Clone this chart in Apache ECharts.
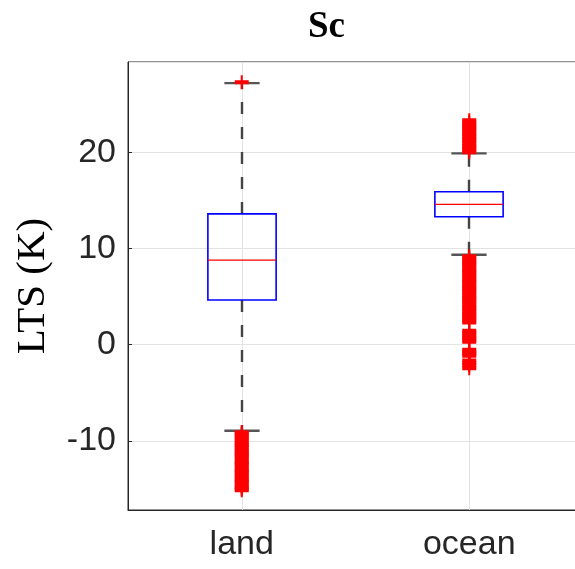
<!DOCTYPE html>
<html>
<head>
<meta charset="utf-8">
<script src="https://cdn.jsdelivr.net/npm/echarts@6/dist/echarts.min.js"></script>
<style>
  html, body { margin: 0; padding: 0; background: #fff; }
  #chart-view { width: 575px; height: 569px; }
</style>
</head>
<body>
<div id="chart-view"></div>
<script>
  // categories and box statistics
  const categories = ['land', 'ocean']
  const whiskerLow = [-8.96, 9.35]
  const q1 = [4.65, 13.3]
  const median = [8.8, 14.6]
  const q3 = [13.6, 15.9]
  const whiskerHigh = [27.2, 19.9]

  // outliers, drawn as '+'
  const landOutliers = [27.3,
    -9.1, -9.3, -9.55, -9.8, -10.05, -10.3, -10.5, -10.75, -11.0, -11.25, -11.45,
    -11.7, -11.95, -12.2, -12.4, -12.65, -12.9, -13.15, -13.35, -13.6, -13.85,
    -14.1, -14.3, -14.55, -14.8, -15.0, -15.15]
  const oceanOutliers = [20.0, 20.25, 20.5, 20.7, 20.95, 21.2, 21.45, 21.65, 21.9,
    22.15, 22.4, 22.6, 22.85, 23.1, 23.35,
    9.2, 8.95, 8.7, 8.5, 8.25, 8.0, 7.75, 7.55, 7.3, 7.05, 6.8, 6.6, 6.35, 6.1,
    5.85, 5.65, 5.4, 5.15, 4.9, 4.7, 4.45, 4.2, 3.95, 3.75, 3.5, 3.25, 3.0, 2.8,
    2.55, 2.3, 1.45, 1.2, 0.95, 0.75, 0.5, 0.3, -0.53, -0.75, -0.95, -1.16,
    -1.65, -1.9, -2.15, -2.45]

  const yTicks = [-10, 0, 10, 20]

  const boxData = categories.map((c, i) => [i, whiskerLow[i], q1[i], median[i], q3[i], whiskerHigh[i]])
  const outlierData = landOutliers.map(v => [0, v]).concat(oceanOutliers.map(v => [1, v]))

  const axisColor = '#262626'
  const gridColor = '#e3e3e3'

  let chart = echarts.init(document.getElementById('chart-view'))

  function renderBox(params, api) {
    let x = api.value(0)
    let band = api.size([1, 0])[0]
    let boxW = band * 0.3
    let capW = band * 0.155
    let pLow = api.coord([x, api.value(1)])
    let pQ1 = api.coord([x, api.value(2)])
    let pMed = api.coord([x, api.value(3)])
    let pQ3 = api.coord([x, api.value(4)])
    let pHigh = api.coord([x, api.value(5)])
    let cx = Math.round(pMed[0])
    let dash = { stroke: '#444', lineWidth: 2.4, lineDash: [12, 13] }
    let cap = { stroke: '#555', lineWidth: 2.4 }
    return {
      type: 'group',
      children: [
        { type: 'line', shape: { x1: cx, y1: pQ3[1], x2: cx, y2: pHigh[1] }, style: dash },
        { type: 'line', shape: { x1: cx, y1: pQ1[1], x2: cx, y2: pLow[1] }, style: dash },
        { type: 'line', shape: { x1: cx - capW / 2, y1: pHigh[1], x2: cx + capW / 2, y2: pHigh[1] }, style: cap },
        { type: 'line', shape: { x1: cx - capW / 2, y1: pLow[1], x2: cx + capW / 2, y2: pLow[1] }, style: cap },
        {
          type: 'rect',
          shape: { x: cx - boxW / 2, y: pQ3[1], width: boxW, height: pQ1[1] - pQ3[1] },
          style: { fill: 'none', stroke: '#0000ff', lineWidth: 1.6 }
        },
        {
          type: 'line',
          shape: { x1: cx - boxW / 2, y1: pMed[1], x2: cx + boxW / 2, y2: pMed[1] },
          style: { stroke: '#ff0000', lineWidth: 1.3 }
        }
      ]
    }
  }

  let option = {
    animation: false,
    title: {
      text: 'Sc',
      left: 303,
      top: 4,
      textStyle: { fontFamily: 'Liberation Serif', fontWeight: 'bold', fontSize: 37, color: '#000' }
    },
    grid: {
      left: 128,
      top: 62,
      right: -8,
      bottom: 59,
      show: true,
      borderColor: axisColor,
      borderWidth: 1,
      outerBoundsMode: 'none'
    },
    xAxis: {
      type: 'category',
      data: categories,
      boundaryGap: true,
      axisLine: { onZero: false, lineStyle: { color: axisColor } },
      axisTick: { alignWithLabel: true, inside: true, length: 4, lineStyle: { color: axisColor } },
      axisLabel: { fontFamily: 'Liberation Sans', fontSize: 34, color: axisColor, margin: 18 },
      splitLine: { show: false }
    },
    yAxis: {
      type: 'value',
      min: -17.2,
      max: 29.4,
      name: 'LTS (K)',
      nameLocation: 'middle',
      nameGap: 74,
      nameTextStyle: { fontFamily: 'Liberation Serif', fontSize: 41, color: '#000' },
      axisLine: { show: true, lineStyle: { color: axisColor } },
      axisTick: { show: true, inside: true, length: 4, lineStyle: { color: axisColor } },
      axisLabel: {
        fontFamily: 'Liberation Sans', fontSize: 34, color: axisColor, margin: 12,
        showMinLabel: false, showMaxLabel: false,
        formatter: v => (yTicks.indexOf(v) >= 0 ? String(v) : '')
      },
      splitLine: { show: true, lineStyle: { color: gridColor, width: 1 } }
    },
    series: [
      {
        // vertical grid lines at the categories
        type: 'line',
        data: [],
        z: 0,
        silent: true,
        markLine: {
          z: 0,
          silent: true,
          symbol: 'none',
          label: { show: false },
          lineStyle: { color: gridColor, type: 'solid', width: 1 },
          data: categories.map(c => ({ xAxis: c }))
        }
      },
      {
        type: 'custom',
        z: 3,
        renderItem: renderBox,
        encode: { x: 0, y: [1, 2, 3, 4, 5] },
        data: boxData
      },
      {
        type: 'scatter',
        z: 6,
        symbol: 'path://M0,5L14,5L14,9L0,9ZM6,0L8,0L8,14L6,14Z',
        symbolSize: 14,
        itemStyle: { color: '#ff0000', opacity: 1 },
        data: outlierData
      }
    ]
  }

  chart.setOption(option)
</script>
</body>
</html>
